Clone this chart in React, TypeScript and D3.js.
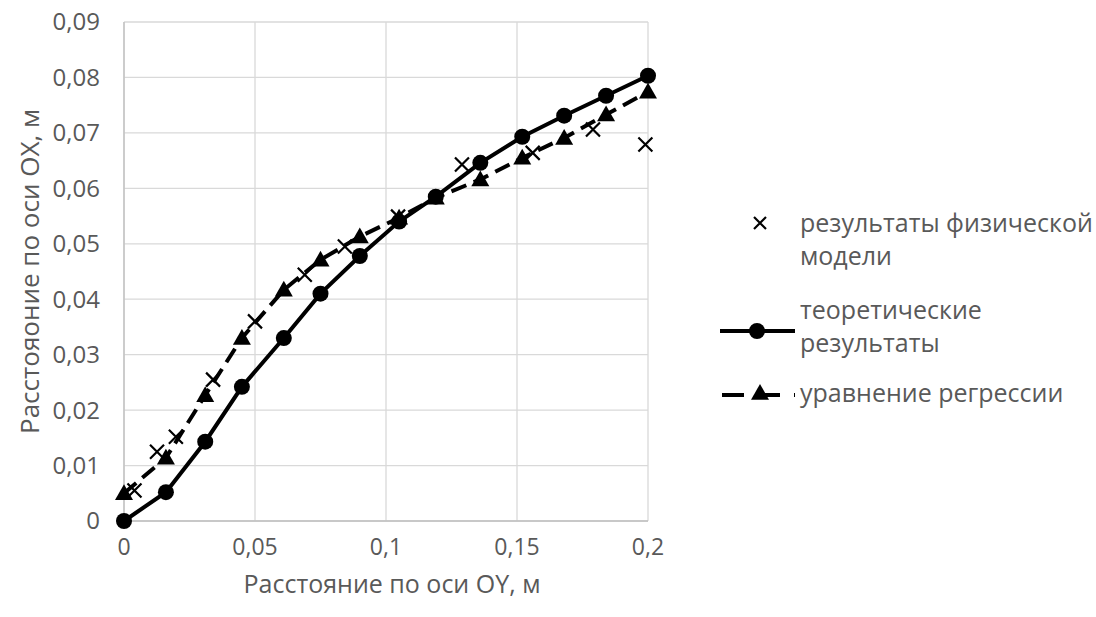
import React from "react";
import * as d3 from "d3";

const xValues = [0, 0.016, 0.031, 0.045, 0.061, 0.075, 0.09, 0.105, 0.119, 0.136, 0.152, 0.168, 0.184, 0.2];
const theoretical = [0, 0.0052, 0.0143, 0.0242, 0.033, 0.041, 0.0478, 0.054, 0.0585, 0.0646, 0.0693, 0.0731, 0.0767, 0.0803];
const regression = [0.005, 0.0114, 0.0227, 0.033, 0.0417, 0.0471, 0.0513, 0.0547, 0.0583, 0.0616, 0.0655, 0.0691, 0.0733, 0.0774];
const physX = [0.004, 0.0126, 0.0198, 0.034, 0.05, 0.069, 0.0843, 0.1046, 0.129, 0.156, 0.179, 0.199];
const physY = [0.0055, 0.0125, 0.0152, 0.0255, 0.036, 0.0444, 0.0495, 0.0549, 0.0643, 0.0664, 0.0706, 0.0679];
const xTicks = [0, 0.05, 0.1, 0.15, 0.2];
const yTicks = [0, 0.01, 0.02, 0.03, 0.04, 0.05, 0.06, 0.07, 0.08, 0.09];
const legendLabels = [["результаты физической", "модели"], ["теоретические", "результаты"], ["уравнение регрессии"]];
const xTitle = "Расстояние по оси OY, м";
const yTitle = "Расстояоние по оси OX, м";

const W = 1096, H = 617;
const left = 124, right = 648, top = 22, bottom = 521;
const FONT = "'Open Sans', sans-serif";
const GRAY = "#595959";

const fmt = (v: number) => (v === 0 ? "0" : String(+v.toFixed(3)).replace(".", ","));

function Cross({ x, y, s = 7 }: { x: number; y: number; s?: number }) {
  return (
    <path d={`M${x - s},${y - s}L${x + s},${y + s}M${x - s},${y + s}L${x + s},${y - s}`} stroke="#000" strokeWidth={2.2} fill="none" />
  );
}
function Tri({ x, y, s = 9 }: { x: number; y: number; s?: number }) {
  return <path d={`M${x},${y - s}L${x + s},${y + s * 0.75}L${x - s},${y + s * 0.75}Z`} fill="#000" />;
}

export default function App() {
  const xs = d3.scaleLinear().domain([0, 0.2]).range([left, right]);
  const ys = d3.scaleLinear().domain([0, 0.09]).range([bottom, top]);
  const line = d3.line<[number, number]>().x((d) => xs(d[0])).y((d) => ys(d[1]));
  const theo: [number, number][] = xValues.map((x, i) => [x, theoretical[i]]);
  const reg: [number, number][] = xValues.map((x, i) => [x, regression[i]]);

  return (
    <svg width={W} height={H} style={{ position: "absolute", left: 0, top: 0, background: "#fff" }} fontFamily={FONT}>
      <rect width={W} height={H} fill="#fff" />
      {yTicks.map((t) => (
        <line key={"gy" + t} x1={left} x2={right} y1={ys(t)} y2={ys(t)} stroke="#d9d9d9" strokeWidth={1.3} />
      ))}
      {xTicks.map((t) => (
        <line key={"gx" + t} x1={xs(t)} x2={xs(t)} y1={top} y2={bottom} stroke="#d9d9d9" strokeWidth={1.3} />
      ))}
      <line x1={left} x2={left} y1={top} y2={bottom} stroke="#bfbfbf" strokeWidth={1.3} />
      <line x1={left} x2={right} y1={bottom} y2={bottom} stroke="#bfbfbf" strokeWidth={1.3} />
      {yTicks.map((t) => (
        <text key={"ty" + t} x={100} y={ys(t)} dy="0.35em" textAnchor="end" fontSize={24} fill={GRAY}>
          {fmt(t)}
        </text>
      ))}
      {xTicks.map((t) => (
        <text key={"tx" + t} x={xs(t)} y={547} dy="0.35em" textAnchor="middle" fontSize={23} fill={GRAY}>
          {fmt(t)}
        </text>
      ))}
      <text x={392} y={584} dy="0.35em" textAnchor="middle" fontSize={25} fill={GRAY}>
        {xTitle}
      </text>
      <text transform={`translate(30,${(top + bottom) / 2}) rotate(-90)`} dy="0.35em" textAnchor="middle" fontSize={26} fill={GRAY}>
        {yTitle}
      </text>

      <path d={line(reg) || ""} fill="none" stroke="#000" strokeWidth={4} strokeDasharray="16,8" />
      {reg.map((d, i) => (
        <Tri key={"r" + i} x={xs(d[0])} y={ys(d[1])} />
      ))}
      <path d={line(theo) || ""} fill="none" stroke="#000" strokeWidth={4} />
      {theo.map((d, i) => (
        <circle key={"c" + i} cx={xs(d[0])} cy={ys(d[1])} r={8} fill="#000" />
      ))}
      {physX.map((x, i) => (
        <Cross key={"p" + i} x={xs(x)} y={ys(physY[i])} />
      ))}

      <g>
        <Cross x={760} y={223} s={6} />
        <text x={800} y={223} dy="0.35em" fontSize={25} fill={GRAY}>{legendLabels[0][0]}</text>
        <text x={800} y={256} dy="0.35em" fontSize={25} fill={GRAY}>{legendLabels[0][1]}</text>

        <line x1={720} x2={795} y1={331} y2={331} stroke="#000" strokeWidth={4} />
        <circle cx={757} cy={331} r={8} fill="#000" />
        <text x={800} y={310} dy="0.35em" fontSize={25} fill={GRAY}>{legendLabels[1][0]}</text>
        <text x={800} y={343} dy="0.35em" fontSize={25} fill={GRAY}>{legendLabels[1][1]}</text>

        <line x1={722} x2={795} y1={395} y2={395} stroke="#000" strokeWidth={4} strokeDasharray="22,14" />
        <Tri x={760} y={393} />
        <text x={800} y={393} dy="0.35em" fontSize={25} fill={GRAY}>{legendLabels[2][0]}</text>
      </g>
    </svg>
  );
}
